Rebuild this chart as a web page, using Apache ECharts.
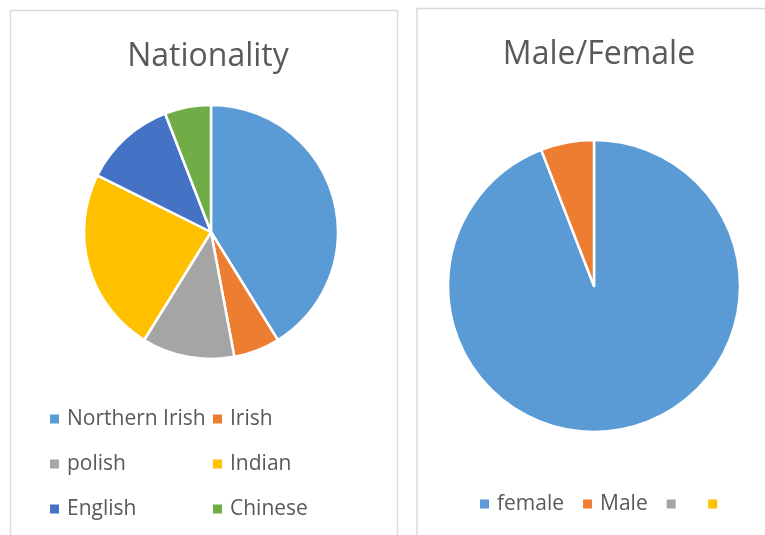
<!DOCTYPE html>
<html>
<head>
<meta charset="utf-8">
<script src="https://cdn.jsdelivr.net/npm/echarts@6/dist/echarts.min.js"></script>
<style>
  html, body { margin: 0; padding: 0; background: #fff; }
  #main { width: 765px; height: 535px; }
</style>
</head>
<body>
<div id="main"></div>
<script>
// 数据
let nationNames = ["Northern Irish", "Irish", "polish", "Indian", "English", "Chinese"];
let nationValues = [7, 1, 2, 4, 2, 1];
let genderNames = ["female", "Male", " ", "  "];
let genderValues = [16, 1, 0, 0];

let officeColors = ["#5B9BD5", "#ED7D31", "#A5A5A5", "#FFC000", "#4472C4", "#70AD47"];
let font = "'Open Sans', 'Liberation Sans', sans-serif";

function toItems(names, values) {
  return names.map((n, i) => {
    let item = { name: n, value: values[i], itemStyle: { color: officeColors[i] } };
    // 0 值扇区不画白边
    if (values[i] === 0) item.itemStyle.borderWidth = 0;
    return item;
  });
}

// 图例公共样式
function legendBase(extra) {
  return Object.assign({
    icon: "rect",
    itemWidth: 9,
    itemHeight: 9,
    padding: 0,
    selectedMode: false,
    itemStyle: { borderWidth: 0 },
    textStyle: { fontFamily: font, fontSize: 21, lineHeight: 24, color: "#595959", padding: [0, 0, 0, 3] }
  }, extra);
}

let myChart = echarts.init(document.getElementById("main"), null, { renderer: "canvas" });

let option = {
  backgroundColor: "#fff",
  animation: false,
  title: [
    {
      text: "Nationality",
      left: 203,
      top: 36,
      textAlign: "center",
      textStyle: { fontFamily: font, fontSize: 32, fontWeight: "normal", color: "#595959" }
    },
    {
      text: "Male/Female",
      left: 594,
      top: 34,
      textAlign: "center",
      textStyle: { fontFamily: font, fontSize: 32, fontWeight: "normal", color: "#595959" }
    }
  ],
  graphic: [
    {
      type: "rect",
      shape: { x: 10.5, y: 10.5, width: 387, height: 540 },
      style: { fill: null, stroke: "#d9d9d9", lineWidth: 1.5 },
      silent: true
    },
    {
      type: "rect",
      shape: { x: 417, y: 8.5, width: 400, height: 540 },
      style: { fill: null, stroke: "#d9d9d9", lineWidth: 1.5 },
      silent: true
    }
  ],
  legend: [
    // 左列
    legendBase({ data: ["Northern Irish", "polish", "English"], orient: "vertical", left: 50, top: 407, itemGap: 21 }),
    // 右列
    legendBase({ data: ["Irish", "Indian", "Chinese"], orient: "vertical", left: 213, top: 407, itemGap: 21 }),
    legendBase({ data: genderNames, orient: "horizontal", left: 480, top: 492, itemGap: 19 })
  ],
  series: [
    {
      name: "Nationality",
      type: "pie",
      center: [211, 232],
      radius: 127,
      startAngle: 90,
      clockwise: true,
      label: { show: false },
      labelLine: { show: false },
      emphasis: { disabled: true },
      itemStyle: { borderColor: "#fff", borderWidth: 2.5 },
      data: toItems(nationNames, nationValues)
    },
    {
      name: "Male/Female",
      type: "pie",
      center: [594, 286],
      radius: 146,
      startAngle: 90,
      clockwise: true,
      label: { show: false },
      labelLine: { show: false },
      emphasis: { disabled: true },
      itemStyle: { borderColor: "#fff", borderWidth: 2.5 },
      data: toItems(genderNames, genderValues)
    }
  ]
};

myChart.setOption(option);

window.addEventListener("resize", function() {
  myChart.resize();
});
</script>
</body>
</html>
